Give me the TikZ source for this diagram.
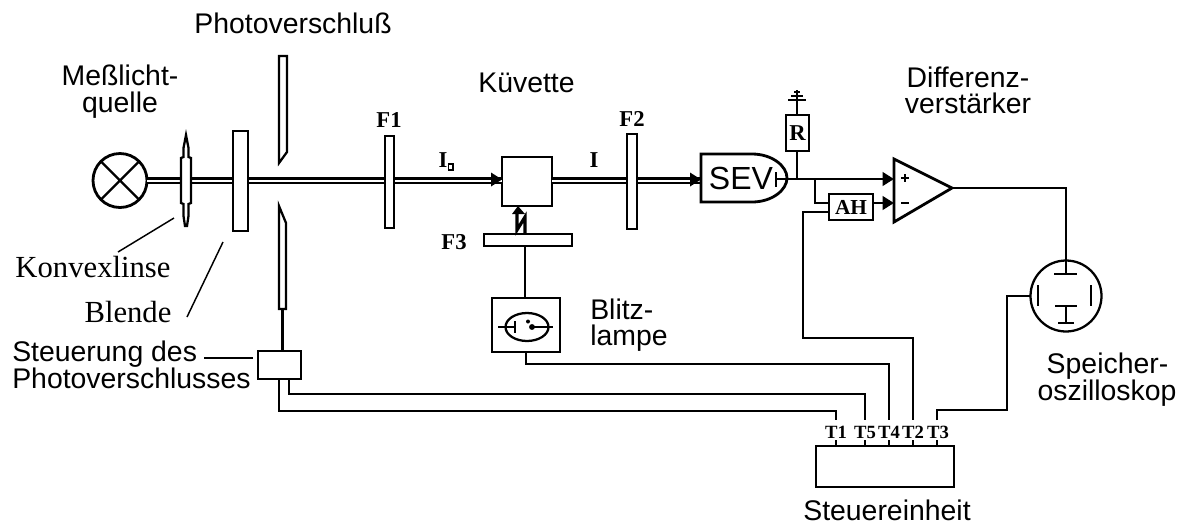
\documentclass[tikz,border=0pt]{standalone}
\usepackage{fontspec}
\setmainfont{Liberation Sans}
\newfontfamily\serifx{Liberation Serif}
\usetikzlibrary{arrows.meta,shapes.geometric}
\newcommand{\pxbox}[5]{\node[rectbox,minimum width={(#4-#2)*0.75pt},minimum height={(#5-#3)*0.75pt}] (#1) at ({(#2+#4)/2},{(#3+#5)/2}) {};}
\tikzset{
 wire/.style={line width=2.1pt,line join=miter},
 thinwire/.style={line width=1.7pt},
 leader/.style={line width=1.1pt},
 beam/.style={line width=1.7pt,double=white,double distance=1.5pt,draw=black},
 rectbox/.style={draw,fill=white,line width=2.1pt,inner sep=0pt,outer sep=0pt},
 arrowwire/.style={line width=2.1pt,-{Triangle[length=8.5pt,width=10pt]}},
 lab/.style={font=\fontsize{21.3}{23}\selectfont,inner sep=0pt,align=center,anchor=base},
 llab/.style={font=\fontsize{21.3}{23}\selectfont,inner sep=0pt,anchor=base west},
 serlab/.style={font=\serifx\fontsize{23}{25}\selectfont,inner sep=0pt,anchor=base},
 bold/.style={font=\serifx\bfseries\fontsize{17}{19}\selectfont,inner sep=0pt},
 tlab/.style={font=\serifx\bfseries\fontsize{14}{16}\selectfont,inner sep=0pt},
}
\begin{document}
\begin{tikzpicture}[x=0.75pt,y=-0.75pt]
\useasboundingbox (0,0) rectangle (1181,526);
% coordinates
\coordinate (t1) at (836,420); \coordinate (t5) at (865,420); \coordinate (t4) at (889,420); \coordinate (t2) at (913,420); \coordinate (t3) at (937,420);
\coordinate (b1) at (279,411); \coordinate (b5) at (289,394); \coordinate (b4) at (526,364); \coordinate (b2) at (803,338); \coordinate (b3) at (1007,410);
% beams
\node[circle,draw,line width=2.1pt,minimum size={54*0.75pt},inner sep=0pt,outer sep=0pt] (lamp) at (120,180.5) {};
\pxbox{cuv}{502}{157}{552}{206}
\coordinate (sevw) at (701,178);
\draw[beam] (lamp.east) -- (cuv.west |- lamp.east);
\draw[beam] (cuv.east |- lamp.east) -- (sevw |- lamp.east);
\fill (cuv.west |- lamp.east) ++(0,-1) -- ++(-11,-7) -- ++(0,14) -- cycle;
\fill (sevw |- lamp.east) ++(0,-1) -- ++(-11,-7) -- ++(0,14) -- cycle;
% lamp cross
\draw[line width=1.7pt] (lamp.north west) -- (lamp.south east) (lamp.north east) -- (lamp.south west);
% lens
\draw[rectbox,line width=1.7pt] (186,135) -- (188.5,148) -- (188.5,157) -- (191,158) -- (191,203) -- (188.5,204) -- (188.5,216) -- (187,226) -- (185,226) -- (183.5,216) -- (183.5,204) -- (181,203) -- (181,158) -- (183.5,157) -- (183.5,148) -- cycle;
% Blende
\pxbox{blende}{233}{131}{248}{231}
% shutter
\draw[rectbox,line width=1.7pt] (279,56) -- (287,56) -- (287,152) -- (279,163) -- cycle;
\draw[rectbox,line width=1.7pt] (279,206) -- (286,223) -- (286,309) -- (279,309) -- cycle;
\coordinate (shutb) at (282.5,309);
% filters
\pxbox{fa}{385}{136}{394}{228}
\pxbox{fb}{627}{134}{637}{229}
\pxbox{fc}{484}{234}{572}{246}
\pxbox{blitz}{492}{298}{560}{352}
\pxbox{ctrl}{258}{351}{301}{379}
\pxbox{unit}{816}{446}{954}{487}
\pxbox{R}{786}{115}{809}{151}
\pxbox{AH}{829}{194}{873}{220}
% flash
\draw[wire] (blitz.north -| 525,0) -- (fc.south -| 525,0);
\draw[line width=2.4pt] (fc.north -| 525,0) -- (525,217) -- (517,230) -- (517,212);
\fill (518,206) -- (512,214) -- (525,214) -- cycle;
% flash symbol
\node[ellipse,draw,line width=1.7pt,minimum width={43*0.75pt},minimum height={28*0.75pt},inner sep=0pt] (el) at (527,327) {};
\draw[thinwire] (498,327) -- (515,327) (515,321) -- (515,333);
\draw[thinwire] (532,327) -- (553,327);
\fill (532,327) circle[radius=2.2pt] (528,321.5) circle[radius=1.5pt];
% SEV
\draw[wire,fill=white] (701,154) -- (752,154) .. controls (772,154) and (787,166) .. (787,178) .. controls (787,190) and (772,202) .. (752,202) -- (701,202) -- cycle;
\draw[thinwire] (776,172) -- (776,187);
\coordinate (sevo) at (776,179);
% amplifier
\draw[wire,line join=miter] (894,159) -- (952,188) -- (894,222) -- cycle;
\coordinate (ampout) at (952,188);
\coordinate (ampp) at (894,179);
\coordinate (ampm) at (894,203);
\coordinate (jn) at (797,179);
\coordinate (br) at (815,179);
\draw[arrowwire] (sevo) -- (ampp);
\draw[wire] (jn) -- (R.south -| jn);
\draw[wire] (br) |- (AH.west |- ampm);
\draw[arrowwire] (AH.east |- ampm) -- (ampm);
\draw[line width=1.7pt] (R.north -| jn) -- (797,90);
\draw[line width=1.3pt] (788,100) -- (806,100) (791,96) -- (803,96) (794,92) -- (800,92);
\draw[line width=2pt] (901,178) -- (909,178) (905,174) -- (905,182) (901,203) -- (909,203);
% scope
\node[circle,draw,line width=1.7pt,minimum size={71*0.75pt},inner sep=0pt,outer sep=0pt] (scope) at (1066,296) {};
\draw[thinwire] (1038,285) -- (1038,306) (1091,285) -- (1091,306);
\draw[thinwire] (1055,306) -- (1077,306) (1066,306) -- (1066,323) (1058,323) -- (1074,323);
\draw[thinwire] (1054,274) -- (1077,274);
\draw[thinwire] (ampout) -| (1066,274);
% wires
\draw[thinwire] (shutb) -- (ctrl.north -| shutb);
\draw[wire] (ctrl.south -| b1) -- (b1) -- (b1 -| t1) -- (t1);
\draw[wire] (ctrl.south -| b5) -- (b5) -- (b5 -| t5) -- (t5);
\draw[wire] (blitz.south -| b4) -- (b4) -- (b4 -| t4) -- (t4);
\draw[wire] (AH.west |- 0,212) -- (803,212) -- (b2) -- (b2 -| t2) -- (t2);
\draw[wire] (t3) -- (t3 |- b3) -- (b3) -- (b3 |- scope.west) -- (scope.west);
\foreach \t in {t1,t5,t4,t2,t3} \draw[thinwire] (unit.north -| \t) -- ++(0,-6);
% leaders
\draw[leader] (174,218) -- (118,252);
\draw[leader] (223,242) -- (187,317);
\draw[leader] (204,358) -- (253,358);
% labels
\node[lab] (l1) at (293,33) {Photoverschluß};
\node[lab] (l2) at (120,85) {Meßlicht-};
\node[lab] (l3) at (120,112) {quelle};
\node[lab] (l4) at (526.5,92) {Küvette};
\node[lab] (l5) at (968,87) {Differenz-};
\node[lab] (l6) at (968,113) {verstärker};
\node[serlab] (l7) at (93,277) {Konvexlinse};
\node[serlab] (l8) at (128,322) {Blende};
\node[llab] (l9) at (12,361) {Steuerung des};
\node[llab] (l10) at (12,388) {Photoverschlusses};
\node[llab] (l11) at (590,319) {Blitz-};
\node[llab] (l12) at (590,345) {lampe};
\node[lab] (l13) at (1107.5,373) {Speicher-};
\node[lab] (l14) at (1107,400) {oszilloskop};
\node[lab] (l15) at (887,520) {Steuereinheit};
\node[lab,anchor=center] (sevt) at (741,178) {\fontsize{24}{26}\selectfont SEV};
\node[bold] (f1) at (389,120) {F1};
\node[bold] (f2) at (632,119) {F2};
\node[bold] (f3) at (454,242) {F3};
\node[bold] (i0) at (443,160) {I};
\draw[line width=1pt] (448.5,164) rectangle (453,170);
\node[bold] (i1) at (594,160) {I};
\node[font=\serifx\bfseries\fontsize{17}{18}\selectfont,inner sep=0pt] (rt) at (R) {R};
\node[font=\serifx\bfseries\fontsize{16}{17}\selectfont,inner sep=0pt] (aht) at (AH) {AH};
\node[tlab] at (836,432) {T1};
\node[tlab] at (865,432) {T5};
\node[tlab] at (889,432) {T4};
\node[tlab] at (913,432) {T2};
\node[tlab] at (938,432) {T3};
\end{tikzpicture}
\end{document}
